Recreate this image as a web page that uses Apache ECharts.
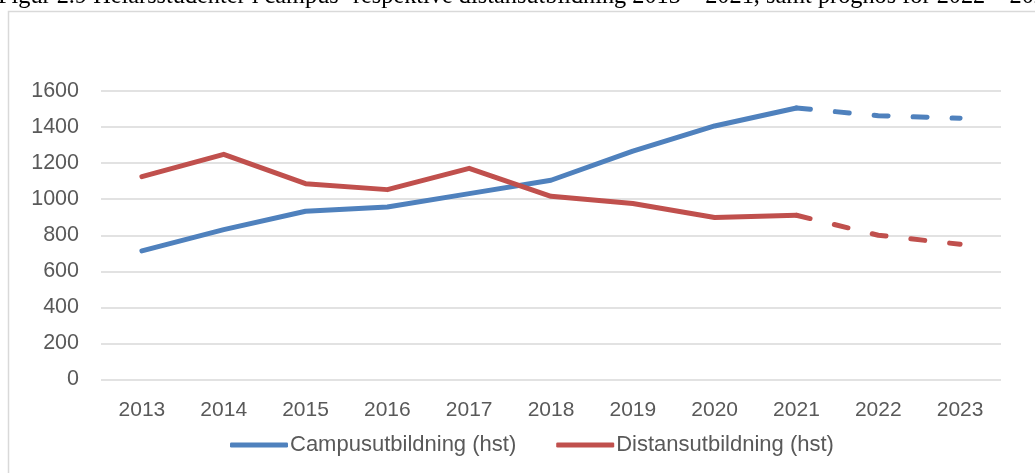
<!DOCTYPE html>
<html>
<head>
<meta charset="utf-8">
<script src="https://cdn.jsdelivr.net/npm/echarts@6/dist/echarts.min.js"></script>
<style>
  html, body { margin: 0; padding: 0; background: #fff; }
  #chart { width: 1035px; height: 473px; }
</style>
</head>
<body>
<div id="chart"></div>
<script>
// år på x-axeln
const years = ['2013', '2014', '2015', '2016', '2017', '2018', '2019', '2020', '2021', '2022', '2023']
// helårsstudenter, 2022-2023 är prognos
const campus = [713, 831, 933, 957, 1031, 1105, 1267, 1406, 1506, 1463, 1449]
const distans = [1125, 1249, 1086, 1053, 1171, 1016, 976, 898, 911, 800, 750]
const lastActual = 8 // index för 2021
const yTicks = { min: 0, max: 1600, interval: 200 }

const blue = '#4f81bd'
const red = '#c0504d'

// dela upp i utfall (heldragen) och prognos (streckad)
function actual(arr) {
  return arr.map((v, i) => (i <= lastActual ? v : null))
}
function forecast(arr) {
  return arr.map((v, i) => (i >= lastActual ? v : null))
}

let mychart = echarts.init(document.getElementById('chart'))

mychart.setOption({
  animation: false,
  //rubrik som är avklippt upptill, samt ramen runt diagrammet
  graphic: [
    {
      type: 'text',
      left: -2,
      top: -15,
      style: {
        text: 'Figur 2.9 Helårsstudenter i campus- respektive distansutbildning 2013 – 2021, samt prognos för 2022 – 2023',
        font: '24.3px "Liberation Serif", "Times New Roman", serif',
        fill: '#000'
      }
    },
    {
      type: 'rect',
      shape: { x: 8.5, y: 11.5, width: 1200, height: 600 },
      style: { fill: 'none', stroke: '#d9d9d9', lineWidth: 1.5 },
      silent: true
    }
  ],
  grid: {
    left: 101,
    right: 34,
    top: 91,
    bottom: 93.5
  },
  xAxis: {
    type: 'category',
    data: years,
    boundaryGap: true,
    axisLine: { show: false },
    axisTick: { show: false },
    axisLabel: {
      color: '#595959',
      fontSize: 21,
      fontFamily: '"Liberation Sans", Arial, sans-serif',
      margin: 20
    }
  },
  yAxis: {
    type: 'value',
    min: yTicks.min,
    max: yTicks.max,
    interval: yTicks.interval,
    axisLine: { show: false },
    axisTick: { show: false },
    axisLabel: {
      color: '#595959',
      fontSize: 21.5,
      fontFamily: '"Liberation Sans", Arial, sans-serif',
      margin: 22,
      formatter: (v) => String(v)
    },
    splitLine: { lineStyle: { color: '#d9d9d9', width: 1.5 } }
  },
  legend: {
    data: ['Campusutbildning (hst)', 'Distansutbildning (hst)'],
    left: 225,
    top: 429,
    icon: 'roundRect',
    itemWidth: 58,
    itemHeight: 5,
    itemGap: 40,
    textStyle: {
      color: '#595959',
      fontSize: 22,
      fontFamily: '"Liberation Sans", Arial, sans-serif',
      padding: [0, 0, 0, -3]
    }
  },
  series: [
    {
      name: 'Campusutbildning (hst)',
      type: 'line',
      data: actual(campus),
      symbol: 'none',
      color: blue,
      lineStyle: { color: blue, width: 5, cap: 'round', join: 'round' }
    },
    {
      name: 'Distansutbildning (hst)',
      type: 'line',
      data: actual(distans),
      symbol: 'none',
      color: red,
      lineStyle: { color: red, width: 5, cap: 'round', join: 'round' }
    },
    {
      name: 'Campus prognos',
      type: 'line',
      data: forecast(campus),
      symbol: 'none',
      color: blue,
      lineStyle: { color: blue, width: 5, type: [14, 25], cap: 'round', join: 'round' }
    },
    {
      name: 'Distans prognos',
      type: 'line',
      data: forecast(distans),
      symbol: 'none',
      color: red,
      lineStyle: { color: red, width: 5, type: [14, 25], cap: 'round', join: 'round' }
    }
  ]
})
</script>
</body>
</html>
